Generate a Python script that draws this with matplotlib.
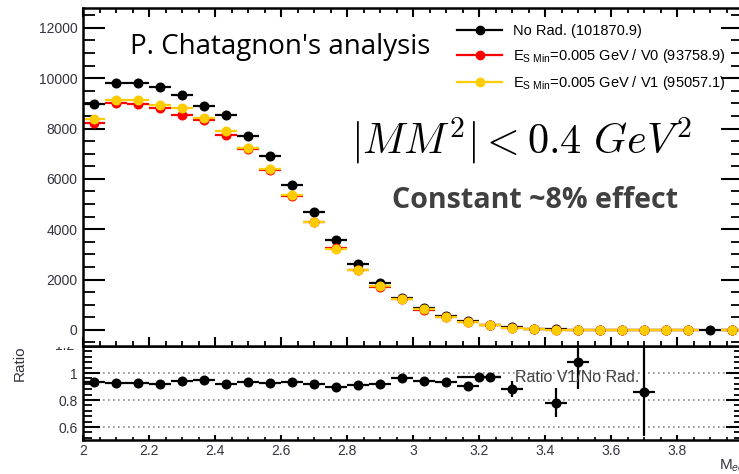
import matplotlib
matplotlib.use('Agg')
import matplotlib.pyplot as plt
import numpy as np
from matplotlib.lines import Line2D
from matplotlib.ticker import MultipleLocator, FixedLocator
from matplotlib.transforms import Bbox, TransformedBbox, blended_transform_factory

plt.rcParams['font.family'] = ['Liberation Sans', 'DejaVu Sans']
plt.rcParams['mathtext.fontset'] = 'custom'
plt.rcParams['mathtext.rm'] = 'Liberation Sans'
plt.rcParams['mathtext.it'] = 'Liberation Sans:italic'

# binning of the M_ee histogram (30 bins between 2 and 4)
bin_edges = np.linspace(2.0, 4.0, 31)

no_rad = [8970, 9820, 9820, 9660, 9320, 8880, 8540, 7710, 6890, 5740,
          4690, 3580, 2610, 1880, 1275, 872, 569, 365, 206, 106,
          35, 19, 9, 6, 4, 3, 2, 1, 2, 1]
v0 = [8220, 9010, 8985, 8810, 8520, 8320, 7725, 7180, 6350, 5320,
      4270, 3250, 2360, 1700, 1215, 810, 522, 326, 196, 91,
      26, 12, 7, 5, 3, 2, 1, 1, np.nan, 1]
v1 = [8390, 9145, 9130, 8930, 8810, 8430, 7910, 7220, 6390, 5355,
      4295, 3220, 2385, 1725, 1232, 822, 530, 331, 199, 93,
      27, 12, 8, 5, 3, 2, 1, 1, np.nan, 1]

labels = ['No Rad. (101870.9)',
          r'E$_{\mathrm{S\ Min}}$=0.005 GeV / V0 (93758.9)',
          r'E$_{\mathrm{S\ Min}}$=0.005 GeV / V1 (95057.1)']
colors = ['black', '#ff0000', '#ffcc00']

# ratio V1 / No Rad.
ratio_x = [2.033, 2.1, 2.167, 2.233, 2.3, 2.367, 2.433, 2.5, 2.567, 2.633,
           2.7, 2.767, 2.833, 2.9, 2.967, 3.033, 3.1, 3.167, 3.2, 3.233,
           3.3, 3.433, 3.5, 3.7]
ratio_y = [0.931, 0.928, 0.926, 0.921, 0.943, 0.946, 0.921, 0.933, 0.923, 0.931,
           0.916, 0.896, 0.909, 0.921, 0.965, 0.943, 0.933, 0.906, 0.968, 0.968,
           0.881, 0.780, 1.084, 0.862]
ratio_xerr = [0.0333] * 18 + [0.0667] + [0.0333] * 5
ratio_err_lo = [0.01] * 14 + [0.015, 0.017, 0.02, 0.022, 0.02, 0.02, 0.058, 0.107, 0.2, 0.33]
ratio_err_hi = [0.01] * 14 + [0.015, 0.017, 0.02, 0.022, 0.02, 0.02, 0.058, 0.107, 0.1, 0.33]

W, H = 739, 474
tick_color = '#333340'


def px_rect(l, t, r, b):
    return [l / W, 1 - b / H, (r - l) / W, (b - t) / H]


fig = plt.figure(figsize=(W / 100, H / 100), dpi=100)
ax_r = fig.add_axes(px_rect(83, 346, 743, 440))
ax = fig.add_axes(px_rect(83, 8, 743, 346))

centers = 0.5 * (bin_edges[:-1] + bin_edges[1:])
half = 0.5 * np.diff(bin_edges)

for vals, c in zip([no_rad, v0, v1], colors):
    ax.errorbar(centers, vals, xerr=half, fmt='o', color=c, ms=6.2,
                elinewidth=1.6, capsize=0)

ax.set_xlim(2, 4)
ax.set_ylim(-640, 12790)
ax.yaxis.set_major_locator(MultipleLocator(2000))
ax.yaxis.set_minor_locator(MultipleLocator(500))
ax.xaxis.set_major_locator(MultipleLocator(0.2))
ax.xaxis.set_minor_locator(MultipleLocator(0.05))
ax.tick_params(axis='y', which='major', direction='in', length=16, width=1.5,
               left=True, right=True, labelsize=10, labelcolor=tick_color, pad=4)
ax.tick_params(axis='y', which='minor', direction='in', length=8.5, width=1.3,
               left=True, right=True)
ax.tick_params(axis='x', which='major', direction='in', length=6.5, width=1.5,
               top=True, bottom=True, labelbottom=False)
ax.tick_params(axis='x', which='minor', direction='in', length=3.5, width=1.3,
               top=True, bottom=True)
for sp in ax.spines.values():
    sp.set_linewidth(1.8)

handles = [Line2D([], [], color=c, marker='o', ms=6, lw=1.6) for c in colors]
fig.legend(handles, labels, loc='upper left', bbox_to_anchor=(457 / W, 1 - 24 / H),
           frameon=False, fontsize=10.5, handlelength=3.1, handletextpad=0.75,
           labelspacing=0.62, borderpad=0, borderaxespad=0, numpoints=1)

# ratio panel
for v in [0.6, 0.8, 1.0]:
    ax_r.axhline(v, color='#8a8a8a', ls=(0, (1, 2)), lw=1.2, zorder=1)
ax_r.errorbar(ratio_x, ratio_y, xerr=ratio_xerr, yerr=[ratio_err_lo, ratio_err_hi],
              fmt='o', color='black', ms=6.2, elinewidth=1.6, capsize=0, zorder=3)
ax_r.set_xlim(2, 4)
ax_r.set_ylim(0.504, 1.2)
ax_r.yaxis.set_major_locator(FixedLocator([0.6, 0.8, 1.0, 1.2]))
ax_r.set_yticklabels(['0.6', '0.8', '1', ''])
ax_r.yaxis.set_minor_locator(MultipleLocator(0.04))
xt = [2.0, 2.2, 2.4, 2.6, 2.8, 3.0, 3.2, 3.4, 3.6, 3.8, 4.0]
ax_r.xaxis.set_major_locator(FixedLocator(xt))
ax_r.set_xticklabels(['2', '2.2', '2.4', '2.6', '2.8', '3', '3.2', '3.4', '3.6', '3.8', ''])
ax_r.xaxis.set_minor_locator(MultipleLocator(0.05))
ax_r.tick_params(axis='y', which='major', direction='in', length=12, width=1.5,
                 left=True, right=True, labelsize=10, labelcolor=tick_color, pad=4)
ax_r.tick_params(axis='y', which='minor', direction='in', length=6.5, width=1.3,
                 left=True, right=True)
ax_r.tick_params(axis='x', which='major', direction='in', length=3.5, width=1.5,
                 top=False, bottom=True, labelsize=10, labelcolor=tick_color, pad=3)
ax_r.tick_params(axis='x', which='minor', direction='in', length=2, width=1.2,
                 top=False, bottom=True)
for sp in ax_r.spines.values():
    sp.set_linewidth(1.8)

# "1.2" label partly hidden under the upper pad
t12 = ax_r.text(-0.0125, 1.2, '1.2', transform=blended_transform_factory(ax_r.transAxes, ax_r.transData),
                ha='right', va='center', fontsize=10, color=tick_color)
t12.set_clip_on(True)
t12.set_clip_box(TransformedBbox(Bbox([[0, 0], [1, 1 - 347 / H]]), fig.transFigure))

fig.text(515 / W, 1 - 378 / H, 'Ratio V1/No Rad.', fontsize=11.5,
         color='#404040', ha='left', va='center', zorder=5)
fig.text(20 / W, 1 - 363 / H, 'Ratio', rotation=90, ha='center', va='center',
         fontsize=11, color=tick_color)
fig.text(719 / W, 1 - 470 / H, r'M$_{ee}$', ha='left', va='baseline',
         fontsize=11, color=tick_color)

# slide annotations
fig.text(130 / W, 1 - 54 / H, "P. Chatagnon's analysis", fontsize=20,
         family=['Open Sans', 'DejaVu Sans'], ha='left', va='baseline', color='black')
fig.text(351 / W, 1 - 153 / H, r'$|MM^2| < 0.4\ GeV^2$', fontsize=30.5,
         math_fontfamily='cm', ha='left', va='baseline', color='black')
fig.text(392 / W, 1 - 208 / H, 'Constant ~8% effect', fontsize=20.6, fontweight='bold',
         family=['Open Sans', 'DejaVu Sans'], ha='left', va='baseline', color='#404040')

fig.savefig('out.png', dpi=100)
